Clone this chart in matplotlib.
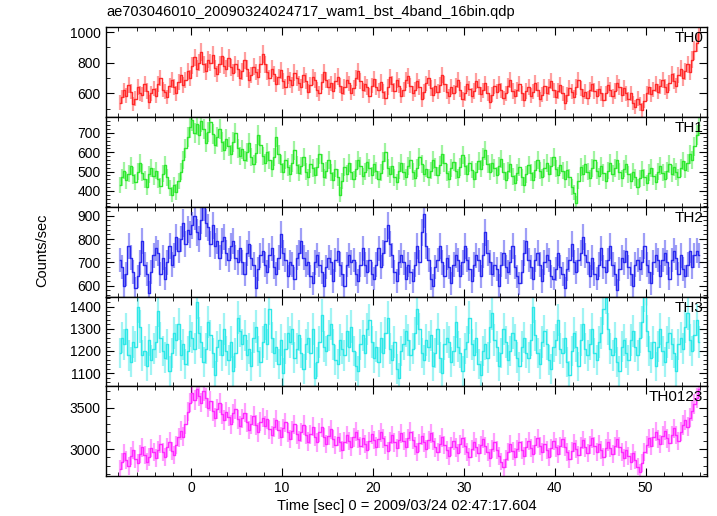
import numpy as np
import matplotlib
matplotlib.use("Agg")
import matplotlib.pyplot as plt
from matplotlib.ticker import MultipleLocator

plt.rcParams['font.family'] = ['Liberation Sans', 'DejaVu Sans']

title = "ae703046010_20090324024717_wam1_bst_4band_16bin.qdp"
xlabel = "Time [sec] 0 = 2009/03/24 02:47:17.604"
ylabel = "Counts/sec"
panel_names = ["TH0", "TH1", "TH2", "TH3", "TH0123"]

t_start = -8.0
bin_size = 0.25

th0 = [
    540, 575, 620, 585, 655, 610, 530, 565, 640, 600, 590, 660, 615, 545, 600, 630,
    585, 660, 700, 625, 610, 575, 650, 690, 640, 600, 675, 720, 655, 690, 745, 700,
    780, 835, 760, 800, 870, 790, 745, 820, 800, 850, 765, 725, 790, 845, 780, 760,
    830, 770, 735, 790, 760, 700, 745, 815, 760, 690, 720, 775, 740, 705, 790, 860,
    790, 740, 700, 760, 725, 660, 705, 750, 680, 640, 715, 690, 655, 735, 700, 665,
    640, 720, 680, 610, 655, 705, 690, 625, 600, 675, 740, 690, 640, 665, 615, 680,
    710, 650, 600, 640, 690, 665, 605, 635, 700, 745, 680, 620, 660, 640, 585, 650,
    695, 640, 620, 675, 610, 570, 640, 705, 660, 615, 690, 650, 585, 625, 690, 715,
    650, 600, 625, 680, 640, 560, 610, 665, 700, 635, 590, 645, 610, 655, 720, 660,
    610, 580, 640, 605, 650, 690, 625, 560, 600, 660, 630, 585, 615, 680, 640, 595,
    620, 665, 600, 545, 590, 645, 610, 660, 620, 570, 600, 650, 690, 615, 580, 625,
    660, 600, 555, 615, 640, 585, 610, 670, 625, 560, 590, 645, 600, 640, 680, 620,
    575, 615, 655, 600, 540, 590, 635, 610, 575, 640, 690, 630, 580, 610, 570, 625,
    660, 615, 580, 630, 600, 555, 600, 655, 625, 580, 615, 670, 640, 590, 635, 600,
    560, 600, 535, 510, 565, 530, 490, 550, 600, 640, 595, 625, 660, 610, 645, 690,
    640, 610, 670, 725, 680, 650, 720, 760, 700, 745, 790, 740, 820, 880, 930, 1000,
]

th1 = [
    430, 470, 505, 455, 490, 530, 480, 445, 500, 545, 495, 460, 420, 485, 520, 475,
    505, 460, 425, 490, 535, 470, 415, 380, 430, 395, 450, 500, 560, 620, 680, 730,
    765, 700, 745, 690, 760, 720, 650, 705, 755, 695, 640, 680, 720, 655, 610, 670,
    630, 590, 655, 700, 620, 580, 615, 560, 600, 650, 575, 540, 595, 690, 640, 580,
    545, 600, 560, 515, 575, 680, 590, 540, 500, 560, 525, 490, 545, 610, 535, 495,
    530, 575, 500, 470, 540, 520, 480, 525, 590, 545, 470, 505, 560, 495, 455, 515,
    470, 380, 450, 525, 490, 545, 500, 460, 515, 560, 530, 475, 500, 550, 520, 480,
    540, 505, 460, 495, 555, 600, 520, 485, 530, 470, 445, 505, 545, 500, 470, 530,
    560, 500, 465, 520, 575, 540, 490, 515, 470, 505, 560, 525, 480, 535, 590, 545,
    495, 460, 520, 550, 505, 470, 525, 585, 530, 490, 545, 510, 460, 500, 555, 515,
    575, 610, 540, 500, 545, 520, 480, 530, 565, 500, 455, 505, 540, 475, 440, 495,
    525, 470, 430, 485, 535, 495, 455, 510, 560, 505, 470, 520, 545, 490, 530, 575,
    515, 480, 535, 505, 460, 510, 470, 420, 390, 335, 450, 525, 490, 540, 500, 465,
    520, 560, 505, 475, 530, 495, 450, 505, 545, 490, 520, 560, 500, 465, 515, 540,
    485, 450, 500, 470, 420, 465, 510, 470, 440, 495, 520, 475, 445, 500, 530, 495,
    460, 505, 540, 490, 525, 500, 470, 520, 555, 510, 545, 590, 560, 630, 690, 740,
]

th2 = [
    710, 680, 600, 650, 770, 720, 660, 590, 640, 700, 790, 690, 650, 570, 660, 730,
    760, 740, 650, 720, 630, 700, 770, 690, 730, 810, 750, 800, 870, 780, 840, 820,
    860, 900, 830, 800, 880, 940, 870, 850, 780, 860, 770, 790, 720, 790, 810, 740,
    710, 770, 790, 720, 700, 760, 700, 650, 740, 780, 720, 690, 590, 670, 730, 750,
    690, 660, 730, 760, 680, 650, 720, 820, 740, 710, 640, 700, 690, 630, 720, 740,
    790, 720, 690, 700, 640, 610, 700, 730, 690, 660, 600, 680, 720, 700, 620, 710,
    750, 690, 650, 600, 690, 730, 700, 710, 650, 620, 690, 760, 690, 660, 710, 650,
    630, 690, 760, 680, 740, 790, 860, 780, 730, 660, 620, 700, 730, 700, 630, 690,
    660, 620, 690, 770, 700, 830, 910, 770, 710, 630, 600, 680, 710, 770, 700, 640,
    720, 680, 610, 690, 730, 710, 640, 700, 770, 710, 670, 620, 690, 730, 710, 640,
    730, 830, 740, 700, 650, 690, 670, 600, 690, 740, 680, 660, 700, 770, 680, 640,
    610, 660, 740, 790, 710, 680, 630, 710, 740, 690, 620, 700, 730, 710, 640, 630,
    670, 740, 680, 650, 590, 670, 710, 780, 700, 660, 710, 740, 810, 730, 700, 640,
    720, 650, 630, 690, 760, 680, 660, 710, 770, 690, 650, 580, 670, 720, 700, 750,
    680, 650, 600, 690, 710, 670, 700, 770, 690, 660, 610, 700, 730, 710, 640, 710,
    740, 700, 630, 710, 750, 720, 650, 730, 670, 640, 690, 750, 680, 730, 750, 730,
]

th3 = [
    1190, 1260, 1230, 1300, 1180, 1150, 1240, 1220, 1400, 1310, 1180, 1200, 1130, 1250, 1160, 1210,
    1240, 1380, 1260, 1200, 1170, 1230, 1110, 1190, 1280, 1250, 1320, 1180, 1230, 1140, 1200, 1290,
    1260, 1210, 1420, 1280, 1240, 1150, 1210, 1330, 1270, 1190, 1090, 1220, 1250, 1180, 1300, 1200,
    1160, 1240, 1110, 1190, 1350, 1290, 1230, 1270, 1180, 1210, 1130, 1260, 1310, 1200, 1150, 1240,
    1320, 1230, 1390, 1260, 1190, 1220, 1140, 1250, 1100, 1210, 1280, 1240, 1300, 1170, 1210, 1270,
    1190, 1120, 1230, 1260, 1190, 1300, 1080, 1150, 1240, 1360, 1220, 1200, 1270, 1320, 1230, 1160,
    1140, 1250, 1210, 1180, 1290, 1220, 1310, 1200, 1130, 1110, 1230, 1270, 1190, 1300, 1340, 1240,
    1170, 1220, 1150, 1260, 1190, 1280, 1350, 1210, 1160, 1240, 1120, 1080, 1200, 1230, 1290, 1250,
    1180, 1210, 1280, 1390, 1300, 1190, 1160, 1250, 1220, 1270, 1130, 1190, 1300, 1170, 1100, 1230,
    1260, 1240, 1150, 1200, 1330, 1220, 1190, 1110, 1210, 1240, 1350, 1230, 1180, 1260, 1140, 1090,
    1200, 1230, 1170, 1310, 1370, 1250, 1220, 1130, 1190, 1300, 1240, 1160, 1200, 1280, 1250, 1170,
    1130, 1220, 1260, 1190, 1170, 1250, 1400, 1270, 1190, 1140, 1240, 1290, 1230, 1160, 1120, 1220,
    1250, 1340, 1210, 1190, 1260, 1150, 1090, 1200, 1280, 1220, 1130, 1250, 1320, 1210, 1180, 1230,
    1300, 1190, 1160, 1240, 1280, 1390, 1440, 1300, 1210, 1180, 1260, 1150, 1110, 1220, 1250, 1190,
    1160, 1250, 1290, 1220, 1180, 1260, 1330, 1450, 1290, 1200, 1170, 1240, 1130, 1220, 1300, 1200,
    1150, 1240, 1280, 1230, 1190, 1110, 1230, 1260, 1210, 1310, 1370, 1250, 1200, 1270, 1340, 1240,
]

th0123 = [
    2760, 2850, 2950, 2870, 2800, 2920, 2990, 2880, 2830, 2940, 3020, 2930, 2850, 2900, 3010, 2960,
    2890, 2990, 3060, 2960, 2900, 3020, 3090, 2980, 2930, 3050, 3140, 3220, 3150, 3300, 3450, 3560,
    3680, 3590, 3720, 3640, 3560, 3700, 3610, 3500, 3580, 3460, 3380, 3480, 3550, 3420, 3350, 3450,
    3390, 3300, 3430, 3480, 3360, 3280, 3370, 3440, 3320, 3230, 3300, 3400, 3290, 3200, 3330, 3380,
    3280, 3360, 3240, 3170, 3260, 3350, 3230, 3150, 3250, 3320, 3200, 3120, 3220, 3300, 3180, 3110,
    3200, 3290, 3170, 3090, 3180, 3270, 3150, 3080, 3200, 3260, 3140, 3060, 3160, 3240, 3120, 3050,
    3150, 3080, 2990, 3090, 3170, 3100, 3030, 3140, 3210, 3120, 3040, 3130, 3060, 2990, 3100, 3180,
    3110, 3030, 3120, 3200, 3130, 3050, 2980, 3090, 3170, 3080, 3010, 3110, 3190, 3100, 3020, 3130,
    3210, 3110, 3040, 2970, 3070, 3160, 3080, 3000, 3110, 3190, 3100, 3020, 2960, 3060, 3140, 3050,
    2990, 2920, 3030, 3100, 3020, 2950, 3060, 3130, 3040, 2960, 2900, 3000, 3090, 3020, 2950, 3050,
    3120, 3040, 2960, 2890, 3000, 3080, 2990, 2920, 2850, 2780, 2880, 2970, 3060, 2980, 2900, 3000,
    3080, 2990, 2920, 3020, 3100, 3010, 2940, 3050, 3130, 3040, 2960, 3060, 2990, 2910, 3010, 3100,
    3020, 2940, 3040, 3120, 3030, 2960, 2880, 2980, 3070, 3000, 2930, 3030, 3110, 3020, 2950, 3050,
    3130, 3040, 2960, 3060, 2990, 2910, 3010, 3090, 3010, 2940, 3040, 3120, 3030, 2960, 2890, 2990,
    2920, 2850, 2950, 2870, 2790, 2720, 2830, 2960, 3050, 3130, 3040, 3140, 3210, 3120, 3060, 3160,
    3220, 3130, 3070, 3170, 3250, 3170, 3100, 3210, 3290, 3350, 3270, 3380, 3460, 3540, 3620, 3720,
]

series = [th0, th1, th2, th3, th0123]
colors = ["#ff2a2a", "#2ee82e", "#2a2aee", "#2ee8e8", "#ff2aff"]
ylims = [(445, 1032), (318, 782), (553, 939), (1041, 1445), (2676, 3756)]
ymajor = [200, 100, 100, 100, 500]
yminor = [100, 20, 20, 20, 100]
xlim = (-9.4, 56.8)

fig = plt.figure(figsize=(7.17, 5.16), dpi=100)
left, right, top, bottom = 0.1474, 0.9865, 0.9471, 0.0775
h = (top - bottom) / 5
axes = []
for i in range(5):
    ax = fig.add_axes([left, top - (i + 1) * h, right - left, h])
    axes.append(ax)

for i, ax in enumerate(axes):
    y = np.array(series[i], dtype=float)
    t = t_start + bin_size * (np.arange(len(y)) + 0.5)
    err = np.sqrt(y / bin_size)
    ax.vlines(t, y - err, y + err, color=colors[i], alpha=0.45, lw=1.6)
    ax.step(t, y, where='mid', color=colors[i], lw=1.0)
    ax.set_xlim(*xlim)
    ax.set_ylim(*ylims[i])
    ax.xaxis.set_major_locator(MultipleLocator(10))
    ax.xaxis.set_minor_locator(MultipleLocator(2))
    ax.yaxis.set_major_locator(MultipleLocator(ymajor[i]))
    ax.yaxis.set_minor_locator(MultipleLocator(yminor[i]))
    ax.tick_params(which='both', direction='in', top=True, right=True,
                   labelsize=10, colors='black')
    ax.tick_params(which='major', length=6, width=0.8)
    ax.tick_params(which='minor', length=3, width=0.6)
    if i < 4:
        ax.tick_params(labelbottom=False)
    for s in ax.spines.values():
        s.set_linewidth(1.0)
    ax.text(0.993, 0.955, panel_names[i], transform=ax.transAxes,
            ha='right', va='top', fontsize=11, color='black')

axes[-1].set_xlabel(xlabel, fontsize=10.5, labelpad=3)
fig.text(0.0586, 0.515, ylabel, rotation=90, ha='center', va='center', fontsize=10.5)
fig.text(0.149, 1 - 12 / 516, title, ha='left', va='center', fontsize=10.5)

fig.savefig("out.png", dpi=100)
